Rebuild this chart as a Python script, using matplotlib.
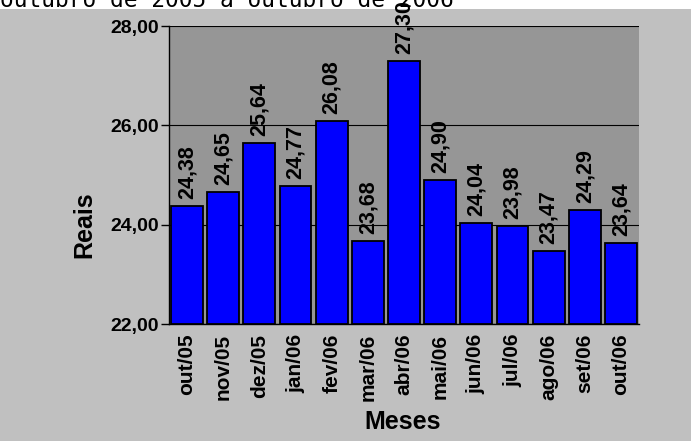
import numpy as np
import matplotlib
matplotlib.use('Agg')
import matplotlib.pyplot as plt
from matplotlib.patches import Rectangle

# preço médio mensal (R$)
meses = ['out/05', 'nov/05', 'dez/05', 'jan/06', 'fev/06', 'mar/06', 'abr/06',
         'mai/06', 'jun/06', 'jul/06', 'ago/06', 'set/06', 'out/06']
valores = [24.38, 24.65, 25.64, 24.77, 26.08, 23.68, 27.30,
           24.90, 24.04, 23.98, 23.47, 24.29, 23.64]
yticks = [22.0, 24.0, 26.0, 28.0]

plt.rcParams['font.family'] = ['Liberation Sans', 'DejaVu Sans']

f = plt.figure(figsize=(6.91, 4.41), dpi=100)
f.patch.set_facecolor('white')
# fundo cinza do gráfico
f.patches.append(Rectangle((0, 0), 1, 1 - 9/441., transform=f.transFigure,
                           fc='#c0c0c0', ec='none', zorder=-10))

f.text(0.0, 1 - 7/441., 'outubro de 2005 a outubro de 2006',
       family='DejaVu Sans Mono', fontsize=16.5, va='baseline', ha='left')

s = f.add_axes([169/691., 1 - 324/441., (639 - 169)/691., (324 - 26)/441.])
s.set_facecolor('#969696')

x = np.arange(len(meses))
s.bar(x, np.array(valores) - 22.0, bottom=22.0, width=0.88, color='#0000ff',
      edgecolor='black', lw=1.3, zorder=3)

for xi, v in zip(x, valores):
    s.annotate(('%.2f' % v).replace('.', ','), (xi, v), xytext=(0, 5),
               textcoords='offset points', rotation=90, ha='center',
               va='bottom', fontsize=15.5, fontweight='bold', zorder=4,
               annotation_clip=False)

s.set_xlim(-0.5, len(meses) - 0.5)
s.set_ylim(22, 28)
s.set_yticks(yticks)
s.set_yticklabels([('%.2f' % t).replace('.', ',') for t in yticks],
                  fontsize=14, fontweight='bold')
s.set_xticks(x)
s.set_xticklabels(meses, rotation=90, fontsize=15, fontweight='bold')
s.tick_params(axis='y', length=6, width=1, pad=1)
s.tick_params(axis='x', length=0, pad=7)

s.grid(axis='y', color='black', lw=0.8, zorder=1)
s.set_axisbelow(True)
for i in ['top', 'right']:
    s.spines[i].set_visible(False)
for i in ['left', 'bottom']:
    s.spines[i].set_color('black')
    s.spines[i].set_linewidth(1.0)

f.text(84/691., 1 - 225/441., 'Reais', rotation=90, fontsize=18,
       fontweight='bold', ha='center', va='center')
f.text(403/691., 1 - 422/441., 'Meses', fontsize=18, fontweight='bold',
       ha='center', va='center')

plt.savefig('out.png', dpi=100)
